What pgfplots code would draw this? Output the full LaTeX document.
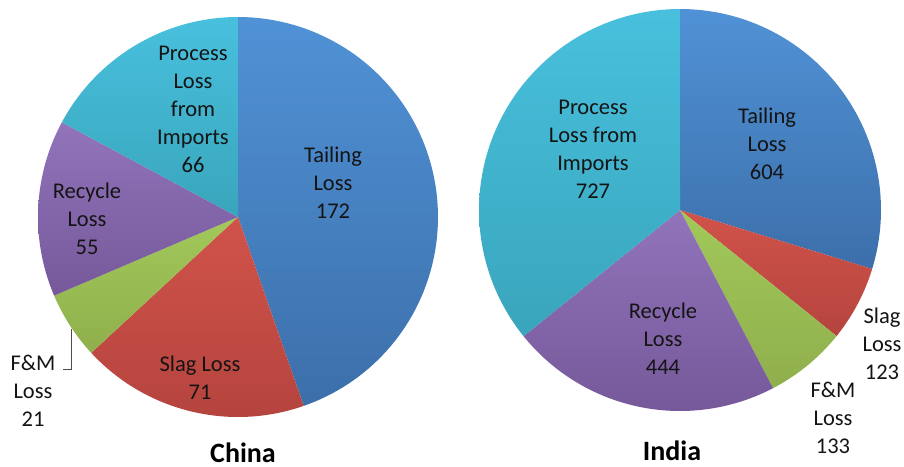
\documentclass[border=0pt]{standalone}
\usepackage{pgfplots}
\usepackage{pgfplotstable}
\pgfplotsset{compat=1.18}
\usepackage{fontspec}
\setmainfont{Carlito}

\definecolor{tailT}{HTML}{5092D6}\definecolor{tailB}{HTML}{3C6FAA}
\definecolor{slagT}{HTML}{D0534A}\definecolor{slagB}{HTML}{B5443E}
\definecolor{fmT}{HTML}{A2C85A}\definecolor{fmB}{HTML}{8FAF4C}
\definecolor{recT}{HTML}{9174BA}\definecolor{recB}{HTML}{76599A}
\definecolor{procT}{HTML}{48C0DD}\definecolor{procB}{HTML}{39A5BC}

\tikzset{lbl/.style={font=\fontsize{22.5}{28}\selectfont, align=center, text=black!92, inner sep=0pt},
         ttl/.style={font=\fontsize{28}{30}\selectfont\bfseries, text=black, inner sep=0pt, anchor=base}}

% value = loss, clockwise from 12 o'clock
\pgfplotstableread{
label value col
Tailing 172 tail
Slag 71 slag
FM 21 fm
Recycle 55 rec
Process 66 proc
}\chinadata

\pgfplotstableread{
label value col
Tailing 604 tail
Slag 123 slag
FM 133 fm
Recycle 444 rec
Process 727 proc
}\indiadata

\newcommand\drawpie[4]{% table, cx, cy, r
  \pgfplotstablegetrowsof{#1}%
  \pgfmathtruncatemacro\lastrow{\pgfplotsretval-1}%
  \gdef\pietotal{0}%
  \foreach \i in {0,...,\lastrow}{%
    \pgfplotstablegetelem{\i}{value}\of{#1}%
    \pgfmathsetmacro\tmp{\pietotal+\pgfplotsretval}%
    \xdef\pietotal{\tmp}}%
  \gdef\piestart{0}%
  \foreach \i in {0,...,\lastrow}{%
    \pgfplotstablegetelem{\i}{value}\of{#1}%
    \pgfmathsetmacro\pieend{\piestart+360*(\pgfplotsretval/\pietotal)}%
    \pgfplotstablegetelem{\i}{col}\of{#1}%
    \edef\temp{\noexpand\addplot[top color=\pgfplotsretval T, bottom color=\pgfplotsretval B, draw=none, domain=\piestart:\pieend, samples=90] ({#2+#4*sin(x)},{#3-#4*cos(x)}) -- (axis cs:#2,#3) -- cycle;}%
    \temp
    \xdef\piestart{\pieend}}%
}

\begin{document}
\begin{tikzpicture}
\begin{axis}[
  name=ax,
  width=904pt, height=466pt, scale only axis,
  xmin=0, xmax=904, ymin=0, ymax=466, y dir=reverse,
  hide axis, clip=false,
]
\drawpie{\chinadata}{238}{217}{200}
\drawpie{\indiadata}{680}{210}{201}

% China labels
\node[lbl] at (axis cs:193,109) {Process\\Loss\\from\\Imports\\66};
\node[lbl] at (axis cs:333,183) {Tailing\\Loss\\172};
\node[lbl] at (axis cs:87,219) {Recycle\\Loss\\55};
\node[lbl] at (axis cs:200,378) {Slag Loss\\71};
\node[lbl] at (axis cs:33,391) {F\&M\\Loss\\21};
\draw[black!70, line width=0.8pt] (axis cs:63,369) -- (axis cs:71,369) -- (axis cs:71,329);
\node[ttl] at (axis cs:243,462) {China};

% India labels
\node[lbl] at (axis cs:593,149) {Process\\Loss from\\Imports\\727};
\node[lbl] at (axis cs:767,144) {Tailing\\Loss\\604};
\node[lbl] at (axis cs:663,339) {Recycle\\Loss\\444};
\node[lbl] at (axis cs:882,344) {Slag\\Loss\\123};
\node[lbl] at (axis cs:833,418) {F\&M\\Loss\\133};
\node[ttl] at (axis cs:672,460) {India};
\end{axis}
\pgfresetboundingbox
\path (ax.south west) rectangle (ax.north east);
\end{tikzpicture}
\end{document}
